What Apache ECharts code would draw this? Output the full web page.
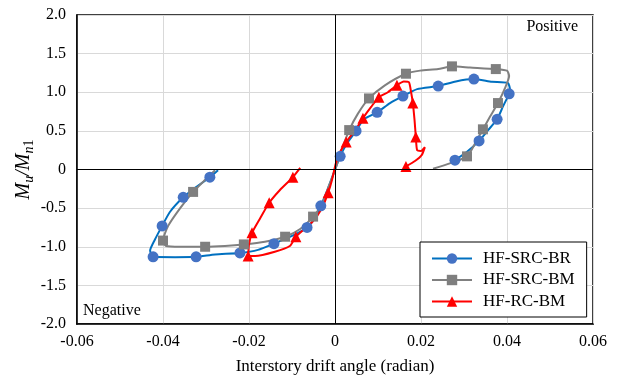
<!DOCTYPE html>
<html>
<head>
<meta charset="utf-8">
<script src="https://cdn.jsdelivr.net/npm/echarts@6/dist/echarts.min.js"></script>
<style>
  html, body { margin: 0; padding: 0; background: #fff; }
  #chart { width: 617px; height: 380px; }
</style>
</head>
<body>
<div id="chart"></div>
<script>
// Axis tick labels
const xTicks = ['-0.06', '-0.04', '-0.02', '0', '0.02', '0.04', '0.06'];
const yTicks = ['-2.0', '-1.5', '-1.0', '-0.5', '0', '0.5', '1.0', '1.5', '2.0'];
const seriesNames = ['HF-SRC-BR', 'HF-SRC-BM', 'HF-RC-BM'];

// HF-SRC-BR: drift angle (rad) and normalised moment along the loop
const brDrift = [-0.0272, -0.0291, -0.0326, -0.0353, -0.0384, -0.0402, -0.0419, -0.0430, -0.0423, -0.0372,
  -0.0323, -0.0279, -0.0221, -0.0179, -0.0142, -0.0100, -0.0065, -0.0047, -0.0033, -0.0016,
  -0.0002, 0.0012, 0.0028, 0.0049, 0.0067, 0.0098, 0.0128, 0.0158, 0.0191, 0.0240,
  0.0281, 0.0323, 0.0365, 0.0402, 0.0407, 0.0405, 0.0391, 0.0377, 0.0356, 0.0335,
  0.0307, 0.0279];
const brMoment = [-0.01, -0.10, -0.24, -0.36, -0.55, -0.73, -0.91, -1.05, -1.13, -1.135,
  -1.13, -1.10, -1.08, -1.04, -0.96, -0.86, -0.75, -0.63, -0.47, -0.24,
  -0.03, 0.17, 0.34, 0.50, 0.65, 0.74, 0.86, 0.95, 1.04, 1.08,
  1.14, 1.17, 1.135, 1.12, 1.03, 0.98, 0.82, 0.65, 0.51, 0.37,
  0.23, 0.12];
const brMarks = [1, 3, 5, 8, 10, 12, 14, 16, 18, 21, 23, 25, 27, 29, 31, 35, 37, 39, 41];

// HF-SRC-BM
const bmDrift = [-0.0279, -0.0305, -0.0330, -0.0360, -0.0388, -0.0400, -0.0393, -0.0360, -0.0302, -0.0256,
  -0.0212, -0.0163, -0.0116, -0.0081, -0.0051, -0.0030, -0.0014, 0.0000, 0.0014, 0.0033,
  0.0053, 0.0079, 0.0116, 0.0165, 0.0198, 0.0240, 0.0272, 0.0314, 0.0374, 0.0400,
  0.0405, 0.0395, 0.0379, 0.0360, 0.0344, 0.0326, 0.0307, 0.0267, 0.0228];
const bmMoment = [-0.01, -0.15, -0.29, -0.50, -0.73, -0.92, -0.99, -1.00, -1.00, -0.99,
  -0.97, -0.935, -0.87, -0.77, -0.61, -0.445, -0.21, -0.01, 0.23, 0.51,
  0.72, 0.92, 1.09, 1.24, 1.28, 1.30, 1.335, 1.32, 1.30, 1.28,
  1.21, 1.05, 0.86, 0.68, 0.52, 0.34, 0.17, 0.08, 0.01];
const bmMarks = [2, 5, 8, 10, 12, 14, 19, 21, 23, 26, 28, 32, 34, 36];

// HF-RC-BM
const rcDrift = [-0.0081, -0.0098, -0.0128, -0.0153, -0.0174, -0.0193, -0.0200, -0.0202, -0.0186, -0.0140,
  -0.0105, -0.0091, -0.0053, -0.0030, -0.0016, -0.0007, 0.0002, 0.0012, 0.0026, 0.0047,
  0.0065, 0.0084, 0.0102, 0.0123, 0.0144, 0.0160, 0.0172, 0.0177, 0.0181, 0.0185,
  0.0188, 0.0191, 0.0200, 0.0209, 0.0202, 0.0186, 0.0165];
const rcMoment = [0.02, -0.10, -0.265, -0.43, -0.63, -0.82, -0.97, -1.12, -1.12, -1.065,
  -0.99, -0.87, -0.68, -0.50, -0.30, -0.135, 0.08, 0.23, 0.355, 0.51,
  0.665, 0.81, 0.935, 1.00, 1.09, 1.14, 1.13, 1.00, 0.86, 0.64,
  0.42, 0.25, 0.24, 0.29, 0.19, 0.11, 0.04];
const rcMarks = [1, 3, 5, 7, 11, 14, 18, 20, 22, 24, 28, 30, 36];

const FONT = "'Liberation Serif', 'Times New Roman', serif";

function buildData(drift, moment, marks) {
  return drift.map((d, i) => {
    const item = { value: [d, moment[i]] };
    if (marks.indexOf(i) < 0) item.symbol = 'none';
    return item;
  });
}

function loop(name, drift, moment, marks, lineColor, markColor, symbol, size) {
  return {
    name: name,
    type: 'line',
    z: 3,
    data: buildData(drift, moment, marks),
    symbol: symbol,
    symbolSize: size,
    showAllSymbol: true,
    smooth: 0.2,
    lineStyle: { color: lineColor, width: 2 },
    itemStyle: { color: markColor },
    emphasis: { disabled: true },
    animation: false
  };
}

const chart = echarts.init(document.getElementById('chart'), null, { renderer: 'canvas' });

chart.setOption({
  animation: false,
  backgroundColor: '#fff',
  textStyle: { fontFamily: FONT, color: '#000' },
  grid: {
    left: 77, right: 24, top: 15, bottom: 55,
    show: true, borderColor: '#000', borderWidth: 1.5
  },
  xAxis: {
    type: 'value',
    min: -0.06, max: 0.06, interval: 0.02,
    name: 'Interstory drift angle (radian)',
    nameLocation: 'middle',
    nameGap: 34,
    nameTextStyle: { fontFamily: FONT, fontSize: 17, color: '#000' },
    axisLine: { onZero: false, lineStyle: { color: '#000', width: 1.5 } },
    axisTick: { show: false },
    axisLabel: {
      fontFamily: FONT, fontSize: 16, color: '#000', margin: 10,
      formatter: v => xTicks[Math.round((v + 0.06) / 0.02)]
    },
    splitLine: { lineStyle: { color: '#d9d9d9', width: 1 } }
  },
  yAxis: {
    type: 'value',
    min: -2, max: 2, interval: 0.5,
    name: '{i|M}{si|u}{i|/M}{si|n}{s|1}',
    nameLocation: 'middle',
    nameGap: 39,
    nameMoveOverlap: false,
    nameRotate: 90,
    nameTextStyle: {
      fontFamily: FONT, color: '#000',
      rich: {
        i: { fontFamily: FONT, fontSize: 20, fontStyle: 'italic', lineHeight: 28, verticalAlign: 'middle' },
        si: { fontFamily: FONT, fontSize: 14, fontStyle: 'italic', lineHeight: 28, verticalAlign: 'bottom', padding: [0, 0, 2, 0] },
        s: { fontFamily: FONT, fontSize: 14, lineHeight: 28, verticalAlign: 'bottom', padding: [0, 0, 2, 0] }
      }
    },
    axisLine: { onZero: false, lineStyle: { color: '#000', width: 1.5 } },
    axisTick: { show: false },
    axisLabel: {
      fontFamily: FONT, fontSize: 16, color: '#000', margin: 11,
      formatter: v => yTicks[Math.round((v + 2) / 0.5)]
    },
    splitLine: { lineStyle: { color: '#d9d9d9', width: 1 } }
  },
  legend: {
    data: seriesNames,
    orient: 'vertical',
    left: 420,
    top: 242,
    width: 164,
    padding: [8, 12, 7, 11],
    itemWidth: 40,
    itemHeight: 13,
    itemGap: 4.5,
    backgroundColor: '#fff',
    borderColor: '#000',
    borderWidth: 1,
    borderRadius: 0,
    textStyle: { fontFamily: FONT, fontSize: 17, color: '#000', padding: [0, 0, 0, 6] },
    selectedMode: false
  },
  graphic: [
    {
      type: 'text', right: 39, top: 19,
      style: { text: 'Positive', font: "16px " + FONT, fill: '#000' }
    },
    {
      type: 'text', left: 83, top: 303,
      style: { text: 'Negative', font: "16px " + FONT, fill: '#000' }
    }
  ],
  series: [
    {
      name: 'zero-lines',
      type: 'line',
      z: 1,
      data: [],
      silent: true,
      markLine: {
        silent: true,
        symbol: 'none',
        label: { show: false },
        animation: false,
        lineStyle: { color: '#000', width: 1, type: 'solid' },
        emphasis: { disabled: true },
        data: [{ xAxis: 0 }, { yAxis: 0 }]
      }
    },
    loop(seriesNames[0], brDrift, brMoment, brMarks, '#0070C0', '#4472C4', 'circle', 11),
    loop(seriesNames[1], bmDrift, bmMoment, bmMarks, '#808080', '#7F7F7F', 'rect', 10),
    loop(seriesNames[2], rcDrift, rcMoment, rcMarks, '#FF0000', '#FF0000', 'triangle', 11)
  ]
});
</script>
</body>
</html>
